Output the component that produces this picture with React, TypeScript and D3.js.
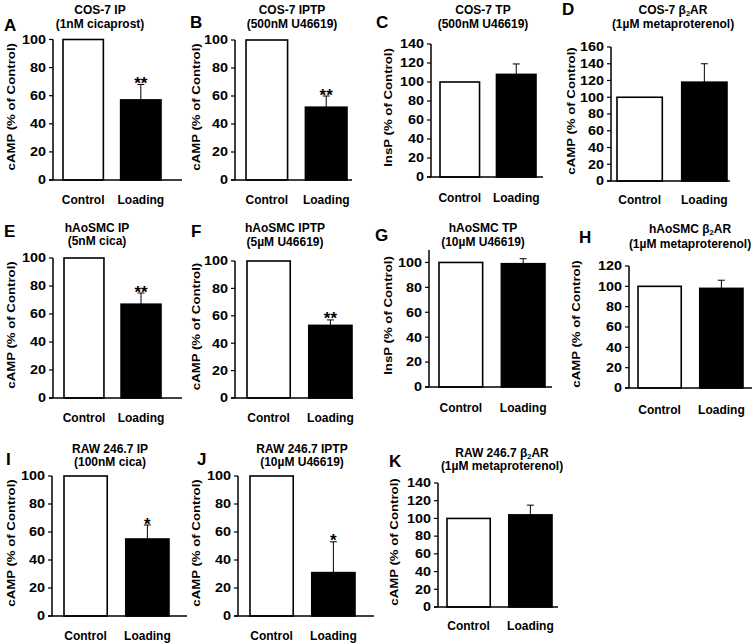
import React from "react"
import {scaleLinear, scaleBand, range} from "d3"

// chart values
const panelIds = ["A", "B", "C", "D", "E", "F", "G", "H", "I", "J", "K"]
const titleLine1 = ["COS-7 IP", "COS-7 IPTP", "COS-7 TP", "COS-7 β2AR", "hAoSMC IP", "hAoSMC IPTP", "hAoSMC TP", "hAoSMC β2AR", "RAW 246.7 IP", "RAW 246.7 IPTP", "RAW 246.7 β2AR"]
const titleLine2 = ["(1nM cicaprost)", "(500nM U46619)", "(500nM U46619)", "(1µM metaproterenol)", "(5nM cica)", "(5µM U46619)", "(10µM U46619)", "(1µM metaproterenol)", "(100nM cica)", "(10µM U46619)", "(1µM metaproterenol)"]
const yLabels = ["cAMP (% of Control)", "cAMP (% of Control)", "InsP (% of Control)", "cAMP (% of Control)", "cAMP (% of Control)", "cAMP (% of Control)", "InsP (% of Control)", "cAMP (% of Control)", "cAMP (% of Control)", "cAMP (% of Control)", "cAMP (% of Control)"]
const categories = ["Control", "Loading"]
const controlValues = [100, 100, 100, 100, 100, 100, 100, 100, 100, 100, 100]
const loadingValues = [57, 52, 108, 118, 67, 53, 99, 98, 55, 31, 104]
const loadingErrors = [11, 8, 11, 22, 8, 4, 4, 8, 10, 22, 11]
const stars = ["**", "**", "", "", "**", "**", "", "", "*", "*", ""]
const yMax = [100, 100, 140, 160, 100, 100, 110, 120, 100, 100, 140]
const tickMax = [100, 100, 140, 160, 100, 100, 100, 120, 100, 100, 140]

// where each small plot sits on the page
const frames = [
  {ax: 53, r: 182, b0: 63, b1: 161, top: 39.5, bot: 180, tx: 100, t1: 13.5, t2: 28, lx: 4, ly: 31, xl: 204, yx: 15},
  {ax: 235, r: 352, b0: 246, b1: 347, top: 40, bot: 180, tx: 292, t1: 13.5, t2: 28, lx: 190, ly: 28, xl: 204, yx: 200},
  {ax: 431, r: 543, b0: 440, b1: 536, top: 44, bot: 177, tx: 483, t1: 13.5, t2: 28, lx: 376, ly: 28, xl: 202, yx: 392},
  {ax: 611, r: 730, b0: 617, b1: 727, top: 47, bot: 181, tx: 673, t1: 13.5, t2: 28, lx: 562, ly: 15, xl: 204, yx: 575},
  {ax: 53, r: 182, b0: 64, b1: 161, top: 258, bot: 398, tx: 97, t1: 232, t2: 245, lx: 4, ly: 237, xl: 422, yx: 15},
  {ax: 235, r: 353, b0: 247, b1: 352, top: 261, bot: 398, tx: 285, t1: 232, t2: 246, lx: 191, ly: 237, xl: 422, yx: 200},
  {ax: 429, r: 552, b0: 439, b1: 545, top: 250, bot: 387, tx: 483, t1: 232, t2: 246, lx: 375, ly: 241, xl: 412, yx: 392},
  {ax: 629, r: 752, b0: 638, b1: 743, top: 266, bot: 388, tx: 690, t1: 233, t2: 248, lx: 579, ly: 243, xl: 414, yx: 580},
  {ax: 52, r: 187, b0: 64, b1: 169, top: 476, bot: 616, tx: 110, t1: 453, t2: 466, lx: 6, ly: 465, xl: 640, yx: 15},
  {ax: 238, r: 374, b0: 250, b1: 355, top: 476, bot: 616, tx: 302, t1: 453, t2: 466, lx: 197, ly: 465, xl: 640, yx: 200},
  {ax: 438, r: 558, b0: 447, b1: 552, top: 483, bot: 607, tx: 502, t1: 457, t2: 470, lx: 389, ly: 467, xl: 630, yx: 398},
]

const FONT = "'Liberation Sans', Arial, sans-serif"

// bold text, optionally stretched along its own baseline (the figure's font runs wide)
function T({x, y, size, sx = 1, rot = 0, anchor = "start", dy, children}) {
  return (
    <text transform={`translate(${x},${y}) rotate(${rot}) scale(${sx},1)`} fontSize={size}
      fontWeight="bold" textAnchor={anchor} dy={dy}>{children}</text>
  )
}

function Title({text, x, y}) {
  // β2 -> β with subscript 2
  const parts = text.split("β2")
  if (parts.length === 1) {
    return <T x={x} y={y} size={12} anchor="middle">{text}</T>
  }
  return (
    <T x={x} y={y} size={12} anchor="middle">
      {parts[0]}β<tspan fontSize="7.5" dy="2">2</tspan><tspan dy="-2">{parts[1]}</tspan>
    </T>
  )
}

function Panel({i}) {
  const f = frames[i]
  const y = scaleLinear().domain([0, yMax[i]]).range([f.bot, f.top])
  const x = scaleBand().domain(categories).range([f.b0, f.b1]).paddingInner(0.3).paddingOuter(0)
  const ticks = range(0, tickMax[i] + 1, 20)
  const vals = [controlValues[i], loadingValues[i]]
  const lx = x("Loading") + x.bandwidth() / 2
  const errTop = y(loadingValues[i] + loadingErrors[i])

  return (
    <g>
      <T x={f.lx} y={f.ly} size={17}>{panelIds[i]}</T>
      <Title text={titleLine1[i]} x={f.tx} y={f.t1}/>
      <T x={f.tx} y={f.t2} size={12} anchor="middle">{titleLine2[i]}</T>
      <T x={f.yx} y={(f.top + f.bot) / 2 - 3} rot={-90} size={11.5} sx={1.15} anchor="middle">{yLabels[i]}</T>

      {vals.map((v, k) => (
        <rect key={k} x={x(categories[k])} y={y(v)} width={x.bandwidth()} height={f.bot - y(v)}
          fill={k === 0 ? "#fff" : "#000"} stroke="#000" strokeWidth="1.6"/>
      ))}

      <line x1={lx} x2={lx} y1={y(loadingValues[i])} y2={errTop} stroke="#000" strokeWidth="1"/>
      <line x1={lx - 3.5} x2={lx + 3.5} y1={errTop} y2={errTop} stroke="#000" strokeWidth="1"/>
      {stars[i] && (
        <T x={lx} y={errTop + 4.5} size={17} anchor="middle">{stars[i]}</T>
      )}

      <line x1={f.ax} x2={f.ax} y1={f.bot} y2={f.top} stroke="#000" strokeWidth="1.5"/>
      <line x1={f.ax - 4} x2={f.r} y1={f.bot} y2={f.bot} stroke="#000" strokeWidth="1.5"/>
      {ticks.map(t => (
        <g key={t}>
          <line x1={f.ax - 4} x2={f.ax} y1={y(t)} y2={y(t)} stroke="#000" strokeWidth="1.2"/>
          <T x={f.ax - 7} y={y(t)} dy="0.36em" size={12} sx={1.2} anchor="end">{t}</T>
        </g>
      ))}
      {categories.map(c => (
        <T key={c} x={x(c) + x.bandwidth() / 2} y={f.xl} size={12} anchor="middle">{c}</T>
      ))}
    </g>
  )
}

export default function App() {
  return (
    <svg width={756} height={643} style={{position: "absolute", left: 0, top: 0, background: "#fff"}}
      fontFamily={FONT}>
      <rect width={756} height={643} fill="#fff"/>
      {panelIds.map((id, i) => <Panel key={id} i={i}/>)}
    </svg>
  )
}
